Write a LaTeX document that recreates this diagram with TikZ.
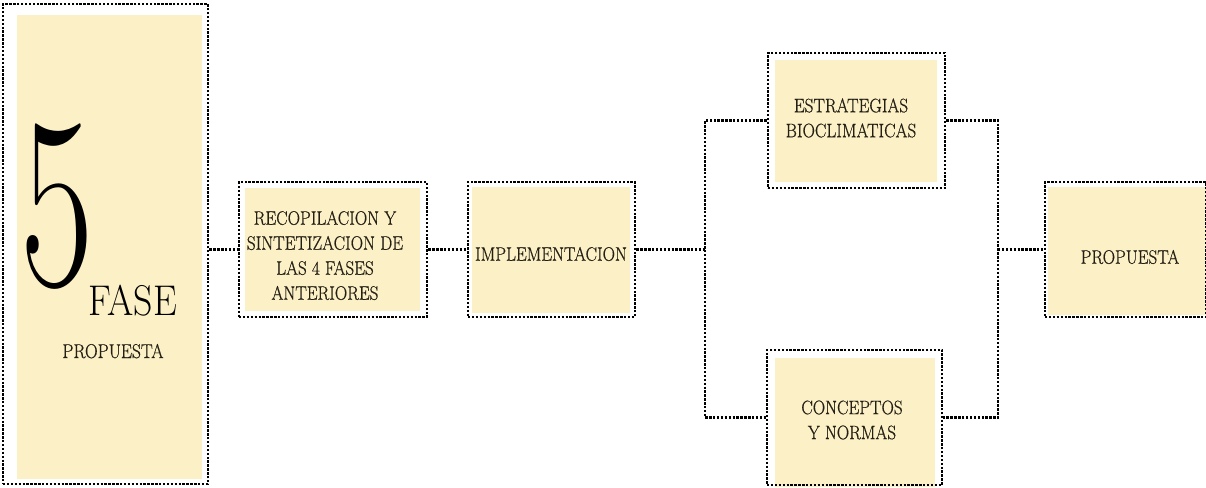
\documentclass[tikz,border=0pt]{standalone}
\usepackage{fontspec}
\setmainfont{Latin Modern Roman}[FakeStretch=0.88, FakeBold=0.5]
\newfontfamily\digitfont{Latin Modern Roman}[FakeStretch=0.88]
\usetikzlibrary{calc}
\definecolor{boxfill}{HTML}{FCF0C6}
\definecolor{ink}{HTML}{231F14}
\begin{document}
\begin{tikzpicture}[x=1pt,y=-1pt,
  dotline/.style={draw=black, line width=2.8pt, dash pattern=on 2.4pt off 1.5pt},
  frame/.style={dotline, rectangle, inner sep=0pt},
  label/.style={text=ink, align=center, font=\fontsize{19.5}{25}\selectfont, inner sep=0pt}]
\useasboundingbox (0,0) rectangle (1206,487);

% pale panels under the dotted frames
\fill[boxfill] (17,15) rectangle (202,479);
\fill[boxfill] (245,188) rectangle (420,311);
\fill[boxfill] (472,187) rectangle (630,313);
\fill[boxfill] (775,60) rectangle (937,182);
\fill[boxfill] (775,358) rectangle (935,487);
\fill[boxfill] (1048,187) rectangle (1206,315);

% dotted frames
\node[frame, minimum width=205pt, minimum height=480pt] (fase) at (105.5,244) {};
\node[frame, minimum width=188pt, minimum height=135pt] (recop) at (333,249.5) {};
\node[frame, minimum width=167pt, minimum height=135pt] (impl) at (551.5,249.5) {};
\node[frame, minimum width=177pt, minimum height=135pt] (estr) at (856.5,120.5) {};
\node[frame, minimum width=175pt, minimum height=135pt] (conc) at (854.5,417.5) {};
\node[frame, minimum width=161pt, minimum height=135pt] (prop) at (1125.5,249.5) {};

% phase title
\node[anchor=base, inner sep=0pt, text=black] (num) at (57,285)
  {\scalebox{0.74}[1]{\digitfont\fontsize{245}{245}\selectfont 5}};
\node[anchor=base, inner sep=0pt, text=black] (fasetxt) at (133,315)
  {\digitfont\fontsize{43}{43}\selectfont FASE};
\node[anchor=base, inner sep=0pt, text=ink] (fasesub) at (113,358)
  {\fontsize{20}{20}\selectfont PROPUESTA};

% box texts
\node[label] (t1) at (325,255.5) {RECOPILACION Y\\SINTETIZACION DE\\LAS 4 FASES\\ANTERIORES};
\node[label] (t2) at (551,254) {IMPLEMENTACION};
\node[label] (t3) at (851,118) {ESTRATEGIAS\\BIOCLIMATICAS};
\node[label] (t4) at (852,420) {CONCEPTOS\\Y NORMAS};
\node[label] (t5) at (1130,257) {PROPUESTA};

% connectors
\coordinate (jl) at (705,249.5);
\coordinate (jr) at (998,249.5);
\draw[dotline] (fase.east |- recop.west) -- (recop.west);
\draw[dotline] (recop.east) -- (impl.west);
\draw[dotline] (impl.east) -- (jl);
\draw[dotline] (estr.west) -| (jl) |- (conc.west);
\draw[dotline] (estr.east) -| (jr) |- (conc.east);
\draw[dotline] (jr) -- (prop.west);
\end{tikzpicture}
\end{document}
